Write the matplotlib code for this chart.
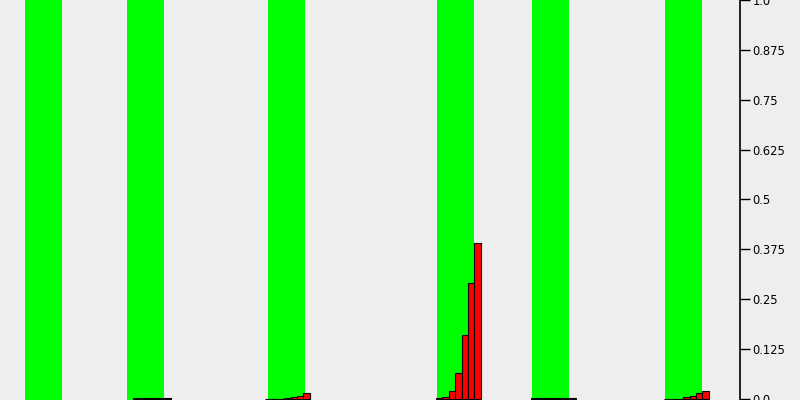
import matplotlib
matplotlib.use("Agg")
import matplotlib.pyplot as plt

# bandas verdes (inicio, ancho)
bandas_inicio = [2.5, 12.7, 26.8, 43.7, 53.2, 66.5]
banda_ancho = 3.7

# grupos de barras rojas: posicion inicial y alturas
grupos_inicio = [13.3, 26.5, 43.6, 53.1, 66.4]
grupos_alturas = [
    [0.001, 0.001, 0.001, 0.001, 0.001, 0.001],
    [0.0, 0.0, 0.0, 0.001, 0.005, 0.008, 0.015],
    [0.002, 0.005, 0.02, 0.065, 0.16, 0.29, 0.39],
    [0.001, 0.001, 0.001, 0.001, 0.001, 0.001, 0.001],
    [0.0, 0.0, 0.0, 0.004, 0.007, 0.014, 0.019],
]
barra_ancho = 0.64

ticks = [0.0, 0.125, 0.25, 0.375, 0.5, 0.625, 0.75, 0.875, 1.0]
tick_labels = ["0.0", "0.125", "0.25", "0.375", "0.5", "0.625", "0.75", "0.875", "1.0"]

fig = plt.figure(figsize=(8, 4), dpi=100, facecolor="#eeeeee")
ax = fig.add_axes([0, 0, 0.925, 1])
ax.set_facecolor("#eeeeee")

for b in bandas_inicio:
    ax.axvspan(b, b + banda_ancho, color="#00ff00", lw=0)

for inicio, alturas in zip(grupos_inicio, grupos_alturas):
    xs = [inicio + i * barra_ancho for i in range(len(alturas))]
    ax.bar(xs, alturas, width=barra_ancho, align="edge",
           color="#ff0000", edgecolor="black", linewidth=0.8)

ax.set_xlim(0, 74)
ax.set_ylim(-0.003, 1)
ax.set_xticks([])
ax.yaxis.tick_right()
ax.set_yticks(ticks)
ax.set_yticklabels(tick_labels, fontsize=8.3)
ax.tick_params(axis="y", length=7, width=1, pad=2)
for s in ["left", "top", "bottom"]:
    ax.spines[s].set_visible(False)
ax.spines["right"].set_linewidth(1.2)

plt.savefig("out.png", dpi=100, facecolor="#eeeeee")
